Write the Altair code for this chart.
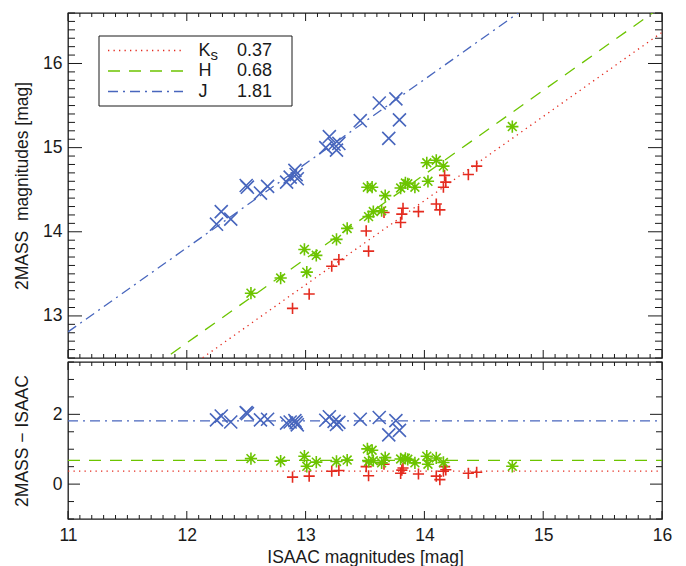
import altair as alt
import pandas as pd

# ---------------- data ----------------
bands = ["Ks", "H", "J"]
offsets = [0.37, 0.68, 1.81]          # mean 2MASS - ISAAC offsets

# Ks band (plus symbols): ISAAC magnitude, 2MASS - ISAAC
k_x = [12.89, 13.03, 13.22, 13.28, 13.51, 13.53, 13.66, 13.80, 13.81, 13.82,
       13.95, 14.10, 14.13, 14.16, 14.17, 14.18, 14.37, 14.44]
k_d = [0.20, 0.23, 0.37, 0.39, 0.50, 0.24, 0.57, 0.31, 0.40, 0.46,
       0.29, 0.23, 0.13, 0.37, 0.50, 0.41, 0.31, 0.34]

# H band (asterisks)
h_x = [12.54, 12.79, 12.99, 13.01, 13.09, 13.26, 13.35, 13.52, 13.56, 13.53,
       13.57, 13.64, 13.67, 13.80, 13.84, 13.86, 13.92, 14.02, 14.03, 14.10,
       14.16, 14.74]
h_d = [0.73, 0.66, 0.80, 0.51, 0.63, 0.65, 0.69, 1.01, 0.97, 0.65,
       0.67, 0.61, 0.76, 0.72, 0.74, 0.71, 0.61, 0.80, 0.57, 0.75,
       0.62, 0.51]

# J band (crosses)
j_x = [12.25, 12.29, 12.37, 12.50, 12.51, 12.62, 12.68, 12.84, 12.87, 12.92,
       12.93, 12.91, 13.17, 13.20, 13.24, 13.26, 13.28, 13.46, 13.62, 13.76,
       13.70, 13.79]
j_d = [1.84, 1.95, 1.78, 2.05, 2.02, 1.84, 1.86, 1.75, 1.78, 1.76,
       1.70, 1.82, 1.83, 1.93, 1.80, 1.71, 1.77, 1.86, 1.91, 1.82,
       1.41, 1.54]

x_domain = [11, 16]
y1_domain = [12.5, 16.6]
y2_domain = [-1, 3.5]
x_major = [11, 12, 13, 14, 15, 16]
y1_major = [13, 14, 15, 16]
y2_major = [0, 2]

# ---------------- styling ----------------
FONT = "Liberation Sans"
INK = "#1a1a1a"
colors = ["#e42b1f", "#6cc400", "#4866bd"]
dashes = [[1.3, 4.2], [12, 9], [10, 5, 2, 5]]
PLUS = "M-1,0L1,0M0,-1L0,1"
ASTER = "M-1,0L1,0M0,-1L0,1M-0.72,-0.72L0.72,0.72M-0.72,0.72L0.72,-0.72"
XCROSS = "M-1,-1L1,1M-1,1L1,-1"
shapes = [PLUS, ASTER, XCROSS]
sizes = [125, 150, 170]

W, H1, H2 = 594, 345, 157


def minor_ticks(lo, hi, step, majors):
    n = int(round((hi - lo) / step))
    out = []
    for i in range(n + 1):
        v = round(lo + i * step, 2)
        if all(abs(v - m) > 1e-6 for m in majors):
            out.append(v)
    return out


x_minor = minor_ticks(11, 16, 0.1, x_major)
y1_minor = minor_ticks(12.5, 16.6, 0.1, y1_major)
y2_minor = minor_ticks(-1, 3.5, 0.5, y2_major)

series = [(k_x, k_d), (h_x, h_d), (j_x, j_d)]


def panel(height, ydom, y_major, y_minor, ytitle, top, Mx, mx, My, my):
    xs = alt.Scale(domain=x_domain, nice=False, zero=False)
    ys = alt.Scale(domain=ydom, nice=False, zero=False)
    dummy = pd.DataFrame({"x": [13.0], "y": [sum(ydom) / 2]})

    ya = alt.Axis(values=y_major, format="d", ticks=False,
                  domain=False, grid=False, labelPadding=6,
                  title=ytitle, titleX=-46, titleY=height / 2,
                  titleAngle=270, titleAlign="center", titleBaseline="middle")
    if top:
        xa = None
    else:
        xa = alt.Axis(values=x_major, format="d", ticks=False,
                      domain=False, grid=False, labelPadding=7, labelFlush=False,
                      title="ISAAC magnitudes [mag]", titlePadding=5)

    def X(f):
        return alt.X(f, scale=xs, axis=xa)

    def Y(f):
        return alt.Y(f, scale=ys, axis=ya)

    layers = [
        alt.Chart(dummy).mark_point(opacity=0).encode(x=X("x:Q"), y=Y("y:Q"))
    ]

    # tick marks drawn inward on all four sides
    def xticks(vals, ln):
        d = pd.DataFrame({"t": vals})
        return [
            alt.Chart(d).mark_rule(color=INK, strokeWidth=1).encode(
                x=X("t:Q"), y=alt.value(height - ln), y2=alt.value(height)),
            alt.Chart(d).mark_rule(color=INK, strokeWidth=1).encode(
                x=X("t:Q"), y=alt.value(0), y2=alt.value(ln)),
        ]

    def yticks(vals, ln):
        d = pd.DataFrame({"t": vals})
        return [
            alt.Chart(d).mark_rule(color=INK, strokeWidth=1).encode(
                y=Y("t:Q"), x=alt.value(0), x2=alt.value(ln)),
            alt.Chart(d).mark_rule(color=INK, strokeWidth=1).encode(
                y=Y("t:Q"), x=alt.value(W - ln), x2=alt.value(W)),
        ]

    layers += xticks(x_major, Mx) + xticks(x_minor, mx)
    layers += yticks(y_major, My) + yticks(y_minor, my)

    # fitted lines
    for i, off in enumerate(offsets):
        if top:
            ldf = pd.DataFrame({"x": x_domain, "y": [x_domain[0] + off, x_domain[1] + off]})
        else:
            ldf = pd.DataFrame({"x": x_domain, "y": [off, off]})
        layers.append(
            alt.Chart(ldf).mark_line(color=colors[i], strokeDash=dashes[i],
                                     strokeWidth=1.3, clip=True).encode(
                x=X("x:Q"), y=Y("y:Q")))

    # data points
    for i, (xx, dd) in enumerate(series):
        if top:
            yy = [a + b for a, b in zip(xx, dd)]
        else:
            yy = list(dd)
        pdf = pd.DataFrame({"x": xx, "y": yy})
        layers.append(
            alt.Chart(pdf).mark_point(shape=shapes[i], size=sizes[i], filled=False,
                                      color=colors[i], strokeWidth=1.6,
                                      opacity=1, clip=True).encode(
                x=X("x:Q"), y=Y("y:Q")))

    if top:
        ld = pd.DataFrame({"a": [0]})
        layers.append(
            alt.Chart(ld).mark_rect(fill="white", stroke=INK, strokeWidth=1).encode(
                x=alt.value(31), x2=alt.value(224), y=alt.value(23), y2=alt.value(93)))
        for i in range(3):
            ry = 37.5 + i * 20.5
            layers.append(
                alt.Chart(ld).mark_rule(color=colors[i], strokeDash=dashes[i],
                                        strokeWidth=1.3).encode(
                    x=alt.value(40), x2=alt.value(115), y=alt.value(ry)))
            name = bands[i]
            layers.append(
                alt.Chart(ld).mark_text(text=name[0], align="left", baseline="middle",
                                        font=FONT, fontSize=18, color=INK).encode(
                    x=alt.value(130.5), y=alt.value(ry)))
            if len(name) > 1:
                layers.append(
                    alt.Chart(ld).mark_text(text=name[1:], align="left", baseline="middle",
                                            font=FONT, fontSize=15, color=INK).encode(
                        x=alt.value(142.5), y=alt.value(ry + 4)))
            layers.append(
                alt.Chart(ld).mark_text(text=f"{offsets[i]:.2f}", align="left",
                                        baseline="middle", font=FONT, fontSize=18,
                                        color=INK).encode(
                    x=alt.value(169), y=alt.value(ry)))

    return alt.layer(*layers).properties(width=W, height=height)


top_panel = panel(H1, y1_domain, y1_major, y1_minor, "2MASS\u00a0 magnitudes [mag]",
                  True, 8, 4, 14, 7)
bottom_panel = panel(H2, y2_domain, y2_major, y2_minor, "2MASS \u2212 ISAAC",
                     False, 8, 4, 12, 6)

chart = alt.vconcat(top_panel, bottom_panel, spacing=0).properties(
    padding={"left": 12, "top": 11, "right": 5, "bottom": 0},
    background="white",
).configure_view(
    stroke=INK, strokeWidth=1.3
).configure_axis(
    labelFont=FONT, labelFontSize=17.5, labelColor=INK,
    titleFont=FONT, titleFontSize=17.5, titleColor=INK, titleFontWeight="normal",
)

chart.save("out.html", embed_options={"renderer": "svg", "actions": False})
